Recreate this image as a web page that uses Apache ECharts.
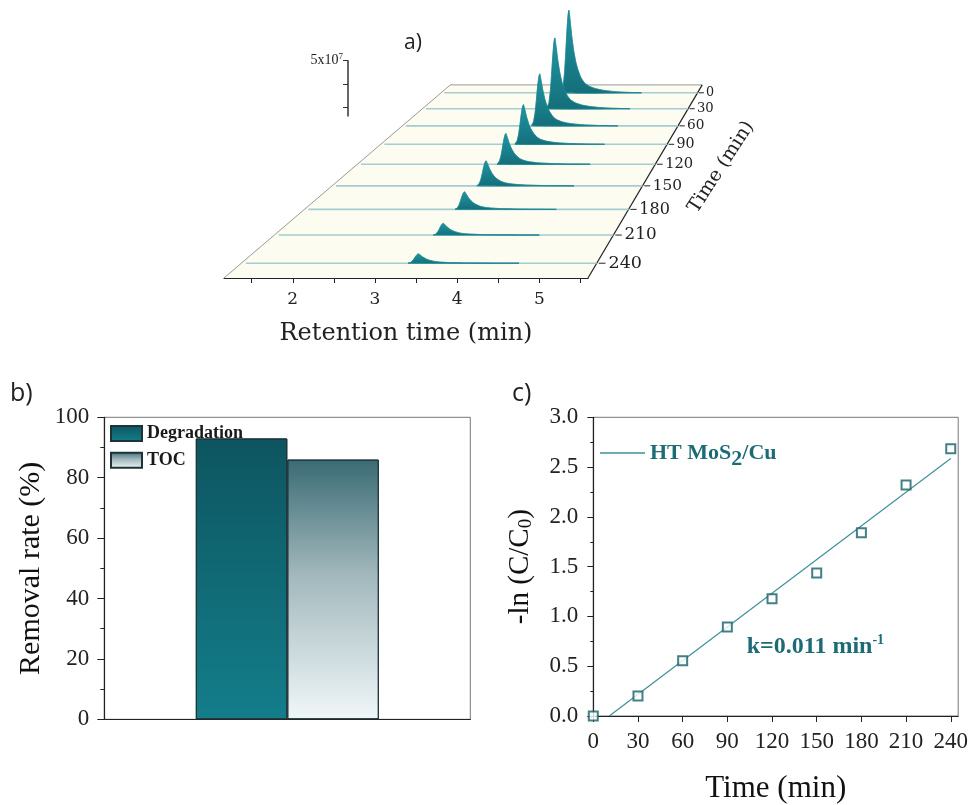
<!DOCTYPE html>
<html>
<head>
<meta charset="utf-8">
<script src="https://cdn.jsdelivr.net/npm/echarts@6/dist/echarts.min.js"></script>
<style>html,body{margin:0;padding:0;background:#fff;}#main{width:971px;height:805px;}</style>
</head>
<body>
<div id="main"></div>
<script>
// ---------- Panel a data ----------
const retentionTickLabels = [2, 3, 4, 5];
const retentionTicks = [1.5, 2, 2.5, 3, 3.5, 4, 4.5, 5, 5.5];
const depthTimes = [0, 30, 60, 90, 120, 150, 180, 210, 240];
const peakRetention = [3.37, 3.37, 3.37, 3.37, 3.37, 3.36, 3.35, 3.37, 3.37];
const peakIntensity = [9.3, 7.7, 5.45, 4.0, 2.98, 2.33, 1.57, 1.0, 0.76]; // x1e7
const profileOffset = [-0.13, -0.10, -0.075, -0.055, -0.035, -0.015, 0, 0.02, 0.05, 0.085, 0.12, 0.16, 0.21, 0.27, 0.35, 0.45, 0.58, 0.75, 0.95, 1.25];
const profileValue  = [0, 0.08, 0.25, 0.48, 0.74, 0.94, 1, 0.88, 0.68, 0.50, 0.37, 0.27, 0.18, 0.12, 0.08, 0.052, 0.032, 0.017, 0.007, 0];
const scaleBarTicks = [0, 2.5, 5];
const scaleBarLabel = [5];

// ---------- Panel b data ----------
const removalSeries = ['Degradation', 'TOC'];
const removalValues = [93.0, 86.0];

// ---------- Panel c data ----------
const kineticTimes = [0, 30, 60, 90, 120, 150, 180, 210, 240];
const kineticValues = [0.0, 0.20, 0.556, 0.894, 1.178, 1.437, 1.841, 2.321, 2.685];
const fitTimes = [10.7, 240];
const fitValues = [0, 2.586];

// ---------- perspective layout parameters (panel a) ----------
const retMin = 1.164, retMax = 5.59;
const depthA = 1.4192, depthB = 0.001646;   // 1/scale = A - B*t
const tBack = -15.7, tFront = 254.7;
const vanishRet = 10.10, vanishInt = 49.76;
const baselineStart = 1.22;

function sc(t) { return 1 / (depthA - depthB * t); }
function proj(api, r, i, t) {
  const p = api.coord([r, i]);
  const v = api.coord([vanishRet, vanishInt]);
  const s = sc(t);
  return [v[0] + (p[0] - v[0]) * s, v[1] + (p[1] - v[1]) * s];
}

const serif = "'Liberation Serif', 'Times New Roman', serif";
const serifA = "'DejaVu Serif', serif";
const sans = "'Open Sans', sans-serif";
const teal = '#1d6b74';

const chart = echarts.init(document.getElementById('main'));

const traceData = depthTimes.map((t, i) => [t, peakRetention[i], peakIntensity[i]]);

function labels(extra) {
  return [
    { type: 'text', left: 404, top: 33, style: { text: 'a)', fontFamily: sans, fontSize: 21, fill: '#222' } },
    { type: 'text', left: 10, top: 381, style: { text: 'b)', fontFamily: sans, fontSize: 25, fill: '#222' } },
    { type: 'text', left: 512, top: 381, style: { text: 'c)', fontFamily: sans, fontSize: 25, fill: '#222' } }
  ].concat(extra || []);
}

const numRich = { n: { fontFamily: serif, fontSize: 23, color: '#222' } };

const option = {
  backgroundColor: '#fff',
  animation: false,
  textStyle: { fontFamily: serif },
  grid: [
    { left: 224, top: 26, width: 364, height: 252 },
    { left: 348, top: 60.7, width: 1, height: 55.3 },
    { left: 104.3, top: 417.3, width: 366, height: 302, show: true, borderColor: '#777', borderWidth: 1 },
    { left: 593.3, top: 417.3, width: 366, height: 302, show: true, borderColor: '#777', borderWidth: 1 }
  ],
  xAxis: [
    {
      gridIndex: 0, type: 'value', min: retMin, max: retMax,
      axisLine: { show: true, lineStyle: { color: '#222', width: 1.2 } },
      axisTick: { show: true, customValues: retentionTicks, length: 5, lineStyle: { color: '#222' } },
      axisLabel: { customValues: retentionTickLabels, fontFamily: serifA, fontSize: 17, color: '#222', margin: 13 },
      splitLine: { show: false },
      name: 'Retention time (min)', nameLocation: 'middle', nameGap: 44,
      nameTextStyle: { fontFamily: serifA, fontSize: 24, color: '#222' }
    },
    { gridIndex: 1, type: 'value', show: false, min: 0, max: 1 },
    {
      gridIndex: 2, type: 'category', data: [''],
      axisLine: { lineStyle: { color: '#222', width: 1.2 } },
      axisTick: { show: false }, axisLabel: { show: false }
    },
    {
      gridIndex: 3, type: 'value', min: 0, max: 245, interval: 30,
      axisLine: { onZero: false, lineStyle: { color: '#222', width: 1.2 } },
      axisTick: { length: 6, lineStyle: { color: '#222' } },
      axisLabel: { margin: 14, showMaxLabel: false, formatter: v => '{n|' + v + '}', rich: numRich },
      splitLine: { show: false },
      name: 'Time (min)', nameLocation: 'middle', nameGap: 57,
      nameTextStyle: { fontFamily: serif, fontSize: 31, color: '#111' }
    }
  ],
  yAxis: [
    { gridIndex: 0, type: 'value', min: 0, max: 20, show: false },
    {
      gridIndex: 1, type: 'value', min: -0.88, max: 5, position: 'left',
      axisLine: { show: true, lineStyle: { color: '#333', width: 1.5 } },
      axisTick: { show: true, customValues: scaleBarTicks, length: 5, lineStyle: { color: '#333' } },
      axisLabel: {
        customValues: scaleBarLabel, margin: 5,
        formatter: v => '{a|' + v + 'x10}{s|7}',
        rich: { a: { fontFamily: serif, fontSize: 14, color: '#222' }, s: { fontFamily: serif, fontSize: 9, color: '#222', verticalAlign: 'top', padding: [0, 0, 8, 0] } }
      },
      splitLine: { show: false }
    },
    {
      gridIndex: 2, type: 'value', min: 0, max: 100, interval: 20,
      axisLine: { show: true, lineStyle: { color: '#222', width: 1.2 } },
      axisTick: { show: true, length: 7, lineStyle: { color: '#222' } },
      minorTick: { show: true, splitNumber: 2, length: 4, lineStyle: { color: '#222' } },
      axisLabel: { margin: 15, formatter: v => '{n|' + v + '}', rich: numRich },
      splitLine: { show: false },
      name: 'Removal rate (%)', nameLocation: 'middle', nameGap: 58,
      nameTextStyle: { fontFamily: serif, fontSize: 30, color: '#111' }
    },
    {
      gridIndex: 3, type: 'value', min: 0, max: 3, interval: 0.5,
      axisLine: { show: true, lineStyle: { color: '#222', width: 1.2 } },
      axisTick: { show: true, length: 6, lineStyle: { color: '#222' } },
      minorTick: { show: true, splitNumber: 2, length: 3, lineStyle: { color: '#222' } },
      axisLabel: { margin: 15, formatter: v => '{n|' + v.toFixed(1) + '}', rich: numRich },
      splitLine: { show: false },
      name: '-ln (C/C{s|0})', nameLocation: 'middle', nameGap: 58,
      nameTextStyle: {
        fontFamily: serif, fontSize: 29, color: '#111',
        rich: { s: { fontFamily: serif, fontSize: 19, color: '#111', verticalAlign: 'bottom', padding: [8, 0, 0, 0] } }
      }
    }
  ],
  legend: [
    {
      left: 105, top: 419.5, orient: 'vertical', itemWidth: 31, itemHeight: 15, itemGap: 8.7,
      data: removalSeries, icon: 'rect',
      textStyle: { fontFamily: serif, fontWeight: 'bold', fontSize: 18, color: '#1a1a1a' }
    },
    {
      left: 595, top: 437, itemWidth: 45, itemHeight: 1.4,
      data: [{ name: 'HT MoS2/Cu', icon: 'rect' }],
      formatter: () => '{a|HT MoS}{b|2}{a|/Cu}',
      textStyle: {
        fontFamily: serif, fontWeight: 'bold', fontSize: 22, color: teal,
        rich: {
          a: { fontFamily: serif, fontWeight: 'bold', fontSize: 22, color: teal },
          b: { fontFamily: serif, fontWeight: 'bold', fontSize: 22, color: teal, padding: [13, 0, 0, 0] }
        }
      }
    }
  ],
  series: [
    // floor + depth axis
    {
      type: 'custom', xAxisIndex: 0, yAxisIndex: 0, clip: false, silent: true, z: 1,
      data: [[retMin, 0]],
      renderItem(params, api) {
        const c1 = proj(api, retMin, 0, tBack), c2 = proj(api, retMax, 0, tBack);
        const c3 = proj(api, retMax, 0, tFront), c4 = proj(api, retMin, 0, tFront);
        const children = [
          { type: 'polygon', shape: { points: [c1, c2, c3, c4] }, style: { fill: '#fcfcf1', stroke: null } },
          { type: 'line', shape: { x1: c4[0], y1: c4[1], x2: c1[0], y2: c1[1] }, style: { stroke: '#9a9a9a', lineWidth: 1 } },
          { type: 'line', shape: { x1: c1[0], y1: c1[1], x2: c2[0], y2: c2[1] }, style: { stroke: '#9a9a9a', lineWidth: 1 } },
          { type: 'line', shape: { x1: c2[0], y1: c2[1], x2: c3[0], y2: c3[1] }, style: { stroke: '#222', lineWidth: 1.2 } }
        ];
        depthTimes.forEach(t => {
          const p = proj(api, retMax, 0, t);
          const s = sc(t);
          children.push({ type: 'line', shape: { x1: p[0] + 2 * s, y1: p[1], x2: p[0] + 9 * s, y2: p[1] }, style: { stroke: '#222', lineWidth: 1 } });
          children.push({ type: 'text', x: p[0] + 12 * s, y: p[1], style: { text: String(t), fontFamily: serifA, fontSize: 18 * s, fill: '#222', align: 'left', verticalAlign: 'middle' } });
        });
        const m = proj(api, retMax, 0, 120);
        children.push({ type: 'text', x: m[0] + 66, y: m[1] + 3, rotation: 57 * Math.PI / 180,
          style: { text: 'Time (min)', fontFamily: serifA, fontSize: 19, fill: '#222', align: 'center', verticalAlign: 'middle' } });
        return { type: 'group', children };
      }
    },
    // chromatogram traces
    {
      type: 'custom', xAxisIndex: 0, yAxisIndex: 0, clip: false, silent: true, z: 2,
      data: traceData,
      renderItem(params, api) {
        const t = api.value(0), r0 = api.value(1), h = api.value(2);
        const b1 = proj(api, baselineStart, 0, t), b2 = proj(api, retMax, 0, t);
        const pts = profileOffset.map((o, k) => proj(api, r0 + o, h * profileValue[k], t));
        const top = proj(api, r0, h, t);
        return {
          type: 'group',
          children: [
            { type: 'line', shape: { x1: b1[0], y1: b1[1], x2: b2[0], y2: b2[1] }, style: { stroke: '#a6ccd1', lineWidth: 1.6 } },
            { type: 'polygon', shape: { points: pts, smooth: 0.15 },
              style: { fill: new echarts.graphic.LinearGradient(0, top[1], 0, b1[1], [
                { offset: 0, color: '#1f97a4' }, { offset: 1, color: '#146f7a' }], true),
                stroke: '#1a8490', lineWidth: 0.6 } }
          ]
        };
      }
    },
    // scale bar (axis only)
    { type: 'line', xAxisIndex: 1, yAxisIndex: 1, data: [], silent: true },
    // panel b bars
    {
      name: removalSeries[0], type: 'bar', xAxisIndex: 2, yAxisIndex: 2,
      data: [removalValues[0]], barWidth: 91.5, barGap: '0%',
      itemStyle: {
        color: new echarts.graphic.LinearGradient(0, 0, 0, 1, [{ offset: 0, color: '#0d5560' }, { offset: 1, color: '#137e8a' }]),
        borderColor: '#1d3338', borderWidth: 1
      }
    },
    {
      name: removalSeries[1], type: 'bar', xAxisIndex: 2, yAxisIndex: 2,
      data: [removalValues[1]], barWidth: 91.5, barGap: '0%',
      itemStyle: {
        color: new echarts.graphic.LinearGradient(0, 0, 0, 1, [
          { offset: 0, color: '#3a6b75' }, { offset: 0.45, color: '#a3b9bd' }, { offset: 1, color: '#f0f7f9' }]),
        borderColor: '#1d3338', borderWidth: 1
      }
    },
    // panel c
    {
      name: 'HT MoS2/Cu', type: 'line', xAxisIndex: 3, yAxisIndex: 3,
      data: fitTimes.map((t, i) => [t, fitValues[i]]), symbol: 'none',
      lineStyle: { color: '#3f9099', width: 1.2 }, itemStyle: { color: '#3f9099' }, z: 3
    },
    {
      name: 'data', type: 'scatter', xAxisIndex: 3, yAxisIndex: 3,
      data: kineticTimes.map((t, i) => [t, kineticValues[i]]),
      symbol: 'emptyRect', symbolSize: 9,
      itemStyle: { color: '#175f68', borderColor: '#175f68', borderWidth: 2.2 }, z: 4
    }
  ],
  graphic: labels()
};

chart.setOption(option);

const kPos = chart.convertToPixel({ gridIndex: 3 }, [103, 0.70]);
chart.setOption({
  graphic: labels([
    { type: 'text', x: kPos[0], y: kPos[1],
      style: { text: '{a|k=0.011 min}{s|-1}', verticalAlign: 'middle', align: 'left', fill: teal,
        rich: { a: { fontFamily: serif, fontWeight: 'bold', fontSize: 24, fill: teal },
                s: { fontFamily: serif, fontWeight: 'bold', fontSize: 14, fill: teal, padding: [0, 0, 11, 0] } } } }
  ])
});
</script>
</body>
</html>
